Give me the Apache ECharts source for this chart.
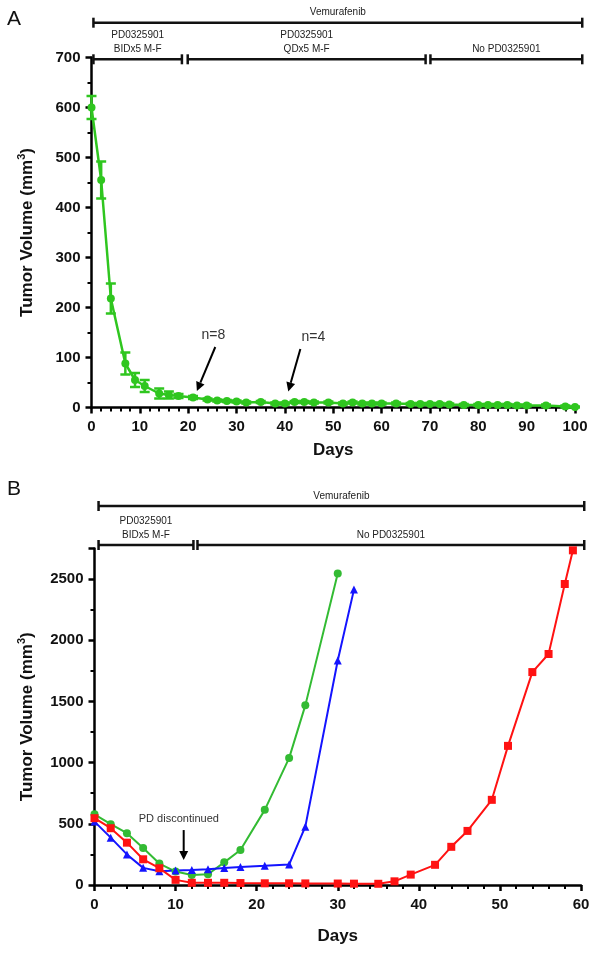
<!DOCTYPE html>
<html>
<head>
<meta charset="utf-8">
<script src="https://cdn.jsdelivr.net/npm/echarts@6/dist/echarts.min.js"></script>
<style>
  html, body { margin: 0; padding: 0; background: #fff; }
  #chart { width: 600px; height: 955px; }
</style>
</head>
<body>
<div id="chart"></div>
<script>
// Panel A: mean tumour volume (mm3) with error bars
const daysA = [0, 2, 4, 7, 9, 11, 14, 16, 18, 21, 24, 26, 28, 30, 32, 35, 38, 40, 42, 44, 46, 49,
  52, 54, 56, 58, 60, 63, 66, 68, 70, 72, 74, 77, 80, 82, 84, 86, 88, 90, 94, 98, 100]
const volumeA = [600, 455, 218, 88, 55, 43, 28, 25, 23, 20, 16, 14, 13, 12, 10, 11, 8, 8, 11, 11, 10, 10,
  8, 10, 8, 8, 8, 8, 7, 7, 7, 7, 6, 5, 5, 5, 5, 5, 4, 4, 4, 2, 1]
const errorA = [23, 37, 30, 22, 14, 12, 10, 7, 4, 3, 2, 2, 2, 2, 2, 2, 2, 2, 2, 2, 2, 2,
  2, 2, 2, 2, 2, 2, 2, 2, 2, 2, 2, 2, 2, 2, 2, 2, 2, 2, 2, 2, 1]

// Panel B: three single animals
const greenDays = [0, 2, 4, 6, 8, 10, 12, 14, 16, 18, 21, 24, 26, 30]
const greenVol = [578, 497, 423, 303, 175, 110, 82, 88, 185, 286, 614, 1037, 1468, 2545]
const blueDays = [0, 2, 4, 6, 8, 10, 12, 14, 16, 18, 21, 24, 26, 30, 32]
const blueVol = [518, 387, 250, 140, 112, 118, 122, 128, 138, 148, 157, 167, 477, 1835, 2414]
const redDays = [0, 2, 4, 6, 8, 10, 12, 14, 16, 18, 21, 24, 26, 30, 32, 35, 37, 39, 42, 44, 46, 49, 51, 54, 56, 58, 59]
const redVol = [546, 464, 346, 210, 137, 42, 18, 18, 18, 16, 14, 14, 13, 12, 11, 10, 30, 85, 165, 312, 442, 696, 1137, 1740, 1888, 2460, 2735]

// treatment brackets (day ranges), row 1 = upper line
const bracketTextA = ['Vemurafenib', 'PD0325901\nBIDx5 M-F', 'PD0325901\nQDx5 M-F', 'No PD0325901']
const bracketStartA = [0.4, 0.4, 19.9, 70.1]
const bracketEndA = [101.5, 18.7, 69.1, 101.5]
const bracketRowA = [1, 0, 0, 0]
const bracketTextB = ['Vemurafenib', 'PD0325901\nBIDx5 M-F', 'No PD0325901']
const bracketStartB = [0.5, 0.5, 12.7]
const bracketEndB = [60.4, 12.2, 60.4]
const bracketRowB = [1, 0, 0]

// arrow notes: [fromDay, fromVol, toDay, toVol, textDay, textVol]
const noteTextA = ['n=8', 'n=4']
const noteA = [[25.6, 121, 21.8, 33, 25.2, 145], [43.2, 117, 40.7, 32, 45.9, 141]]
const noteTextB = ['PD discontinued']
const noteB = [[11, 449, 11, 204, 10.4, 539]]

const FONT = 'Liberation Sans, Arial, sans-serif'
const GREEN = '#2fc61f'
const GREEN_B = '#33bb33'
const BLUE = '#1414ff'
const RED = '#ff1212'

const zip = (a, b) => a.map((v, i) => [v, b[i]])

const bracketRows = (start, end, row) => start.map((s, i) => [s, end[i], row[i]])

const bracketItem = (texts) => (params, api) => {
  const p1 = api.coord([api.value(0), api.value(2)])
  const p2 = api.coord([api.value(1), api.value(2)])
  const st = { stroke: '#111', lineWidth: 2.5 }
  return {
    type: 'group',
    children: [
      { type: 'line', shape: { x1: p1[0], y1: p1[1], x2: p2[0], y2: p2[1] }, style: st },
      { type: 'line', shape: { x1: p1[0], y1: p1[1] - 5, x2: p1[0], y2: p1[1] + 5 }, style: st },
      { type: 'line', shape: { x1: p2[0], y1: p2[1] - 5, x2: p2[0], y2: p2[1] + 5 }, style: st },
      {
        type: 'text',
        x: (p1[0] + p2[0]) / 2, y: p1[1] - 3,
        style: {
          text: texts[params.dataIndex], fill: '#222', font: '10px ' + FONT,
          align: 'center', verticalAlign: 'bottom', lineHeight: 14,
        },
      },
    ],
  }
}

const noteItem = (texts, fontSize) => (params, api) => {
  const p0 = api.coord([api.value(0), api.value(1)])
  const p1 = api.coord([api.value(2), api.value(3)])
  const pt = api.coord([api.value(4), api.value(5)])
  const dx = p1[0] - p0[0], dy = p1[1] - p0[1]
  const len = Math.hypot(dx, dy)
  const ux = dx / len, uy = dy / len
  const hl = 9, hw = 4.5
  const bx = p1[0] - ux * hl, by = p1[1] - uy * hl
  return {
    type: 'group',
    children: [
      { type: 'line', shape: { x1: p0[0], y1: p0[1], x2: bx, y2: by }, style: { stroke: '#000', lineWidth: 2 } },
      {
        type: 'polygon',
        shape: { points: [[p1[0], p1[1]], [bx - uy * hw, by + ux * hw], [bx + uy * hw, by - ux * hw]] },
        style: { fill: '#000' },
      },
      {
        type: 'text', x: pt[0], y: pt[1],
        style: { text: texts[params.dataIndex], fill: '#333', font: fontSize + 'px ' + FONT, align: 'center', verticalAlign: 'middle' },
      },
    ],
  }
}

const errorItem = (params, api) => {
  const lo = api.coord([api.value(0), api.value(1)])
  const hi = api.coord([api.value(0), api.value(2)])
  const st = { stroke: GREEN, lineWidth: 2.5 }
  return {
    type: 'group',
    children: [
      { type: 'line', shape: { x1: lo[0], y1: lo[1], x2: hi[0], y2: hi[1] }, style: st },
      { type: 'line', shape: { x1: lo[0] - 5, y1: lo[1], x2: lo[0] + 5, y2: lo[1] }, style: st },
      { type: 'line', shape: { x1: hi[0] - 5, y1: hi[1], x2: hi[0] + 5, y2: hi[1] }, style: st },
    ],
  }
}

const axisLine = { show: true, lineStyle: { color: '#000', width: 2.5 } }
const axisTick = { show: true, inside: false, length: 6, lineStyle: { color: '#000', width: 2.5 } }
const minorTick = (n) => ({ show: true, splitNumber: n, length: 4, lineStyle: { color: '#000', width: 2 } })
// plain numbers, no thousands separator
const tickLabel = { color: '#111', fontFamily: FONT, fontWeight: 'bold', fontSize: 15, formatter: (v) => String(v) }
const nameStyle = {
  color: '#111', fontFamily: FONT, fontWeight: 'bold', fontSize: 17, lineHeight: 22,
  rich: { sup: { fontFamily: FONT, fontWeight: 'bold', fontSize: 11, verticalAlign: 'top', lineHeight: 22 } },
}
const hidden = { show: false }

const option = {
  animation: false,
  title: [
    { text: 'A', left: 2, top: 4, textStyle: { fontFamily: FONT, fontWeight: 'normal', fontSize: 21, color: '#111' } },
    { text: 'B', left: 2, top: 474, textStyle: { fontFamily: FONT, fontWeight: 'normal', fontSize: 21, color: '#111' } },
  ],
  grid: [
    { left: 91.5, right: 25, top: 57.5, height: 350 },
    { left: 91.5, right: 25, top: 22.7, height: 36.6 },
    { left: 94.5, right: 19, top: 548.5, height: 336.5 },
    { left: 94.5, right: 19, top: 506, height: 39 },
  ],
  xAxis: [
    {
      gridIndex: 0, type: 'value', min: 0, max: 100, interval: 10,
      axisLine, axisTick, minorTick: minorTick(5), splitLine: hidden,
      axisLabel: { ...tickLabel, margin: 12 },
      name: 'Days', nameLocation: 'middle', nameGap: 32, nameTextStyle: nameStyle,
    },
    { gridIndex: 1, type: 'value', min: 0, max: 100, show: false },
    {
      gridIndex: 2, type: 'value', min: 0, max: 60, interval: 10,
      axisLine, axisTick, minorTick: minorTick(5), splitLine: hidden,
      axisLabel: { ...tickLabel, margin: 12 },
      name: 'Days', nameLocation: 'middle', nameGap: 40, nameTextStyle: nameStyle,
    },
    { gridIndex: 3, type: 'value', min: 0, max: 60, show: false },
  ],
  yAxis: [
    {
      gridIndex: 0, type: 'value', min: 0, max: 700, interval: 100,
      axisLine, axisTick, minorTick: minorTick(2), splitLine: hidden,
      axisLabel: { ...tickLabel, margin: 11 },
      name: 'Tumor Volume (mm{sup|3})', nameLocation: 'middle', nameGap: 53, nameTextStyle: nameStyle,
    },
    { gridIndex: 1, type: 'value', min: 0, max: 1, show: false },
    {
      gridIndex: 2, type: 'value', min: 0, max: 2750, interval: 500,
      axisLine, axisTick, minorTick: minorTick(2), splitLine: hidden,
      axisLabel: { ...tickLabel, margin: 11, showMaxLabel: false },
      name: 'Tumor Volume (mm{sup|3})', nameLocation: 'middle', nameGap: 56, nameTextStyle: nameStyle,
    },
    { gridIndex: 3, type: 'value', min: 0, max: 1, show: false },
  ],
  series: [
    {
      type: 'custom', xAxisIndex: 0, yAxisIndex: 0, z: 2,
      data: daysA.map((d, i) => [d, volumeA[i] - errorA[i], volumeA[i] + errorA[i]]),
      encode: { x: 0, y: [1, 2] }, renderItem: errorItem,
    },
    {
      type: 'line', xAxisIndex: 0, yAxisIndex: 0, z: 3,
      data: zip(daysA, volumeA), symbol: 'circle', symbolSize: 8,
      itemStyle: { color: GREEN }, lineStyle: { color: GREEN, width: 2.5 },
    },
    {
      type: 'custom', xAxisIndex: 1, yAxisIndex: 1,
      data: bracketRows(bracketStartA, bracketEndA, bracketRowA),
      encode: { x: [0, 1], y: 2 }, renderItem: bracketItem(bracketTextA),
    },
    {
      type: 'custom', xAxisIndex: 0, yAxisIndex: 0, z: 5,
      data: noteA, encode: { x: [0, 2, 4], y: [1, 3, 5] }, renderItem: noteItem(noteTextA, 14),
    },
    {
      type: 'line', xAxisIndex: 2, yAxisIndex: 2,
      data: zip(greenDays, greenVol), symbol: 'circle', symbolSize: 8,
      itemStyle: { color: GREEN_B }, lineStyle: { color: GREEN_B, width: 2 },
    },
    {
      type: 'line', xAxisIndex: 2, yAxisIndex: 2,
      data: zip(blueDays, blueVol), symbol: 'triangle', symbolSize: 8,
      itemStyle: { color: BLUE }, lineStyle: { color: BLUE, width: 2 },
    },
    {
      type: 'line', xAxisIndex: 2, yAxisIndex: 2,
      data: zip(redDays, redVol), symbol: 'rect', symbolSize: 8,
      itemStyle: { color: RED }, lineStyle: { color: RED, width: 2 },
    },
    {
      type: 'custom', xAxisIndex: 3, yAxisIndex: 3,
      data: bracketRows(bracketStartB, bracketEndB, bracketRowB),
      encode: { x: [0, 1], y: 2 }, renderItem: bracketItem(bracketTextB),
    },
    {
      type: 'custom', xAxisIndex: 2, yAxisIndex: 2, z: 5,
      data: noteB, encode: { x: [0, 2, 4], y: [1, 3, 5] }, renderItem: noteItem(noteTextB, 11),
    },
  ],
}

const chart = echarts.init(document.getElementById('chart'), null, { renderer: 'canvas' })
chart.setOption(option)
</script>
</body>
</html>
